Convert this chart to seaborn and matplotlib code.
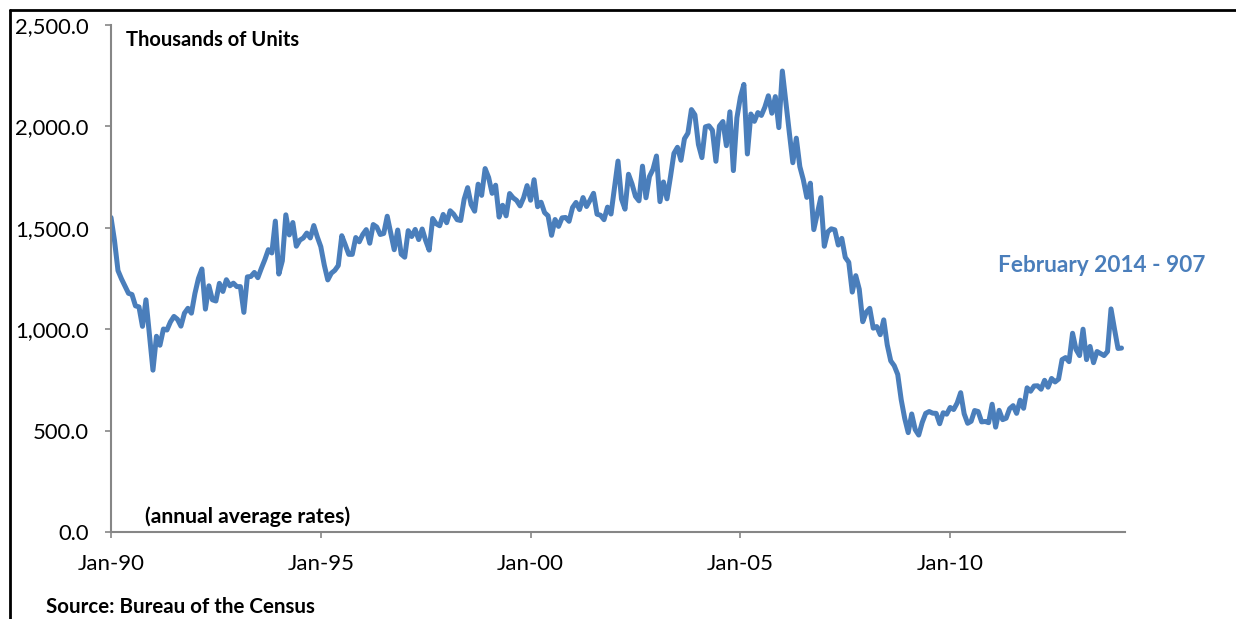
import numpy as np
import pandas as pd
import matplotlib
matplotlib.use("Agg")
import matplotlib.pyplot as plt
import seaborn as sns

# Monthly housing starts, thousands of units (SAAR)
starts_1990 = [1551, 1437, 1289, 1248, 1212, 1177, 1171, 1115, 1110, 1014, 1145, 969]
starts_1991 = [798, 965, 921, 1001, 996, 1036, 1063, 1049, 1015, 1079, 1103, 1079]
starts_1992 = [1176, 1250, 1297, 1099, 1214, 1145, 1139, 1226, 1186, 1244, 1214, 1227]
starts_1993 = [1210, 1210, 1083, 1258, 1260, 1280, 1254, 1300, 1343, 1392, 1376, 1533]
starts_1994 = [1272, 1337, 1564, 1465, 1526, 1409, 1439, 1450, 1474, 1450, 1511, 1455]
starts_1995 = [1407, 1316, 1243, 1276, 1290, 1314, 1461, 1416, 1369, 1369, 1452, 1431]
starts_1996 = [1467, 1491, 1424, 1516, 1504, 1467, 1472, 1557, 1475, 1392, 1489, 1370]
starts_1997 = [1355, 1486, 1457, 1492, 1442, 1494, 1437, 1390, 1546, 1520, 1510, 1566]
starts_1998 = [1525, 1584, 1567, 1540, 1536, 1641, 1698, 1614, 1582, 1715, 1660, 1792]
starts_1999 = [1748, 1670, 1710, 1553, 1611, 1559, 1669, 1648, 1635, 1608, 1648, 1708]
starts_2000 = [1636, 1737, 1604, 1626, 1575, 1559, 1463, 1541, 1507, 1549, 1551, 1532]
starts_2001 = [1600, 1625, 1590, 1649, 1605, 1636, 1670, 1567, 1562, 1540, 1602, 1568]
starts_2002 = [1698, 1829, 1642, 1592, 1764, 1717, 1655, 1633, 1804, 1648, 1753, 1788]
starts_2003 = [1854, 1629, 1726, 1643, 1751, 1867, 1897, 1833, 1939, 1967, 2083, 2057]
starts_2004 = [1911, 1846, 1998, 2003, 1981, 1828, 2002, 2024, 1905, 2072, 1782, 2042]
starts_2005 = [2144, 2207, 1864, 2061, 2025, 2068, 2054, 2095, 2151, 2065, 2147, 1994]
starts_2006 = [2273, 2119, 1969, 1821, 1942, 1802, 1737, 1650, 1720, 1491, 1570, 1649]
starts_2007 = [1409, 1480, 1495, 1490, 1415, 1448, 1354, 1330, 1183, 1264, 1197, 1037]
starts_2008 = [1084, 1103, 1005, 1013, 973, 1046, 923, 844, 820, 777, 652, 560]
starts_2009 = [490, 582, 505, 478, 540, 585, 594, 586, 585, 534, 588, 581]
starts_2010 = [614, 604, 636, 687, 583, 536, 546, 599, 594, 543, 545, 539]
starts_2011 = [630, 517, 600, 554, 561, 608, 623, 585, 650, 610, 711, 694]
starts_2012 = [720, 721, 704, 748, 714, 757, 740, 754, 850, 860, 840, 980]
starts_2013 = [900, 870, 1000, 850, 915, 835, 890, 880, 870, 890, 1100, 1000]
starts_2014 = [905, 907]

yearly = [starts_1990, starts_1991, starts_1992, starts_1993, starts_1994,
          starts_1995, starts_1996, starts_1997, starts_1998, starts_1999,
          starts_2000, starts_2001, starts_2002, starts_2003, starts_2004,
          starts_2005, starts_2006, starts_2007, starts_2008, starts_2009,
          starts_2010, starts_2011, starts_2012, starts_2013, starts_2014]
values = [v for yr in yearly for v in yr]

x_tick_pos = [0, 60, 120, 180, 240]
x_tick_labels = ["Jan-90", "Jan-95", "Jan-00", "Jan-05", "Jan-10"]
y_ticks = [0, 500, 1000, 1500, 2000, 2500]

df = pd.DataFrame({"month": np.arange(len(values)), "starts": values})

sns.set_theme(style="white")
FONT = ["Lato", "DejaVu Sans"]
plt.rcParams["font.family"] = FONT

fig = plt.figure(figsize=(12.36, 6.19), dpi=100)
ax = fig.add_axes([111 / 1236, 87 / 619, (1125 - 111) / 1236, (532 - 25) / 619])

line_color = "#4A7EBB"
sns.lineplot(data=df, x="month", y="starts", ax=ax, color=line_color,
             linewidth=3.6, solid_capstyle="round", solid_joinstyle="round")

ax.set_xlim(0, 290)
ax.set_ylim(0, 2500)
ax.set_xticks(x_tick_pos)
ax.set_xticklabels(x_tick_labels)
ax.set_yticks(y_ticks)
ax.set_yticklabels([f"{v:,.1f}" for v in y_ticks])
ax.set_xlabel("")
ax.set_ylabel("")

axis_gray = "#868686"
for side in ["top", "right"]:
    ax.spines[side].set_visible(False)
for side in ["left", "bottom"]:
    ax.spines[side].set_visible(True)
    ax.spines[side].set_color(axis_gray)
    ax.spines[side].set_linewidth(1.5)
ax.tick_params(axis="both", which="major", direction="out", length=4.5, width=1.2,
               color=axis_gray, labelcolor="black", bottom=True, left=True)
ax.tick_params(axis="y", pad=11.5, labelsize=15.8)
ax.tick_params(axis="x", pad=11, labelsize=16)
ax.grid(False)
ax.set_facecolor("white")

ax.text(4.3, 2426, "Thousands of Units", fontsize=14.5, fontweight="bold",
        ha="left", va="center", color="black")
ax.text(9.7, 74, "(annual average rates)", fontsize=15.2, fontweight="bold",
        ha="left", va="center", color="black")
ax.text(1205 / 1236, (619 - 266) / 619, "February 2014 - 907", transform=fig.transFigure,
        fontsize=16.3, fontweight="bold", color=line_color, ha="right", va="center")
fig.text(46 / 1236, (619 - 607) / 619, "Source: Bureau of the Census", fontsize=14.8,
         fontweight="bold", ha="left", va="center", color="black")

# outer frame (top and left edges visible in the reference)
fig.add_artist(plt.Line2D([10 / 1236, 1.0], [(619 - 10) / 619] * 2,
                          transform=fig.transFigure, color="black", linewidth=2))
fig.add_artist(plt.Line2D([10 / 1236] * 2, [0.0, (619 - 10) / 619],
                          transform=fig.transFigure, color="black", linewidth=2))

fig.savefig("out.png", dpi=100, facecolor="white")
